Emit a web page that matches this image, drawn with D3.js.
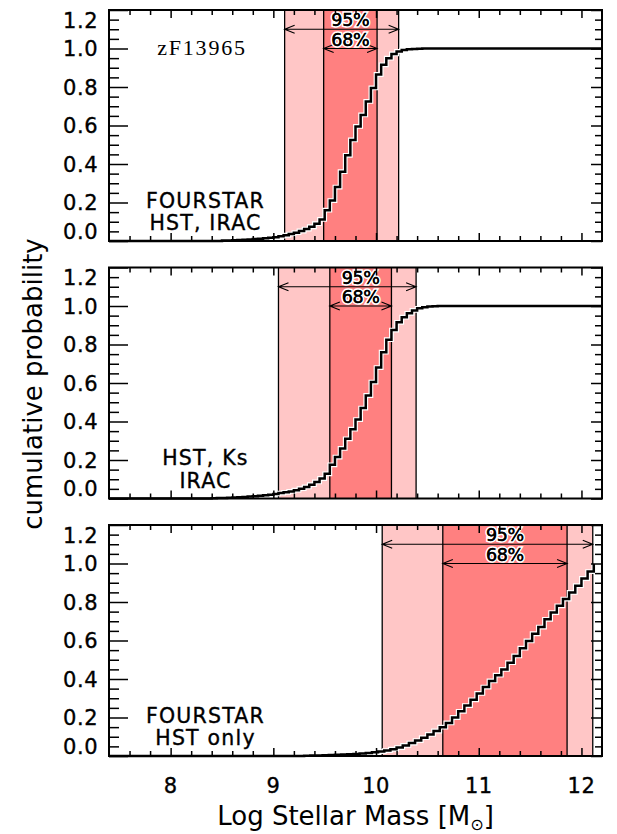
<!DOCTYPE html>
<html>
<head>
<meta charset="utf-8">
<script src="https://cdn.jsdelivr.net/npm/d3@7"></script>
<style>
  body { margin: 0; background: #fff; }
  text { font-family: "DejaVu Sans", sans-serif; fill: #000; }
  .heavy { stroke: #000; stroke-width: 0.35px; }
</style>
</head>
<body>
<div id="chart"></div>
<script>
// Chart values
var massTicks = [8, 9, 10, 11, 12];
var probTicks = [0.0, 0.2, 0.4, 0.6, 0.8, 1.0, 1.2];
var probLabels = ["0.0", "0.2", "0.4", "0.6", "0.8", "1.0", "1.2"];
var objectName = "zF13965";
var panelLabels = [["FOURSTAR", "HST, IRAC"], ["HST, Ks", "IRAC"], ["FOURSTAR", "HST only"]];
var ci95 = [[9.11, 10.22], [9.05, 10.39], [10.06, 12.11]];
var ci68 = [[9.49, 10.01], [9.55, 10.15], [10.65, 11.86]];

// cumulative probability, one value per mass bin
var cdfStart = [8.50, 8.40, 9.30];
var cdfStep = [0.05, 0.05, 0.06];
var cdfEnd = [12.2, 12.2, null];
var cdf1 = [0.002, 0.003, 0.004, 0.005, 0.006, 0.008, 0.010, 0.012, 0.014, 0.017,
            0.020, 0.025, 0.030, 0.036, 0.043, 0.052, 0.062, 0.074, 0.090, 0.112,
            0.160, 0.210, 0.280, 0.360, 0.445, 0.525, 0.595, 0.655, 0.725, 0.795,
            0.865, 0.915, 0.950, 0.972, 0.985, 0.992, 0.996, 0.998, 0.999, 1.000];
var cdf2 = [0.001, 0.002, 0.003, 0.004, 0.005, 0.006, 0.008, 0.010, 0.012, 0.014,
            0.017, 0.020, 0.024, 0.028, 0.032, 0.037, 0.043, 0.051, 0.060, 0.072,
            0.086, 0.104, 0.128, 0.175, 0.215, 0.260, 0.310, 0.360, 0.410, 0.470,
            0.535, 0.605, 0.680, 0.760, 0.825, 0.875, 0.915, 0.942, 0.962, 0.977,
            0.988, 0.994, 0.997, 0.999, 1.000];
var cdf3 = [0.001, 0.002, 0.003, 0.004, 0.005, 0.006, 0.008, 0.009, 0.011, 0.013,
            0.016, 0.019, 0.023, 0.028, 0.035, 0.044, 0.055, 0.067, 0.080, 0.095,
            0.112, 0.130, 0.150, 0.172, 0.200, 0.232, 0.262, 0.292, 0.325, 0.358,
            0.390, 0.420, 0.450, 0.485, 0.520, 0.560, 0.598, 0.635, 0.670, 0.710,
            0.745, 0.780, 0.815, 0.850, 0.885, 0.922, 0.958, 0.998];
var cdfs = [cdf1, cdf2, cdf3];

// Layout
var svgWidth = 617;
var svgHeight = 834;
var plotLeft = 109;
var plotRight = 602;
var panelTop = [10, 267.5, 525];
var panelHeight = 231;

var lightRed = "#ffc6c6";
var darkRed = "#ff8080";

var svg = d3.select("#chart")
  .append("svg")
  .attr("width", svgWidth)
  .attr("height", svgHeight);

var x = d3.scaleLinear()
  .domain([7.4, 12.2])
  .range([plotLeft, plotRight]);

var xMinor = d3.range(76, 122, 2).map(d => d / 10)
  .filter(d => Math.abs(d - Math.round(d)) > 1e-6);
var yMinor = d3.range(1, 24).filter(d => d % 4 != 0).map(d => d * 0.05);

var line = d3.line().curve(d3.curveStepAfter);

panelTop.forEach(function(top, p) {
  var bottom = top + panelHeight;
  var y = d3.scaleLinear().domain([0, 1.2]).range([bottom, top]);
  var g = svg.append("g");

  // confidence bands
  g.append("rect")
    .attr("x", x(ci95[p][0])).attr("y", top)
    .attr("width", x(ci95[p][1]) - x(ci95[p][0])).attr("height", panelHeight)
    .attr("fill", lightRed);
  g.append("rect")
    .attr("x", x(ci68[p][0])).attr("y", top)
    .attr("width", x(ci68[p][1]) - x(ci68[p][0])).attr("height", panelHeight)
    .attr("fill", darkRed);

  g.selectAll(".edge")
    .data(ci95[p].concat(ci68[p]))
    .enter().append("line")
    .attr("x1", d => x(d)).attr("x2", d => x(d))
    .attr("y1", top).attr("y2", bottom)
    .attr("stroke", "#000").attr("stroke-width", 1.3);

  // cumulative step curve
  var pts = [[7.4, 0]];
  cdfs[p].forEach(function(v, i) {
    pts.push([cdfStart[p] + i * cdfStep[p], v]);
  });
  if (cdfEnd[p] != null) pts.push([cdfEnd[p], cdfs[p][cdfs[p].length - 1]]);
  line.x(d => x(d[0])).y(d => y(d[1]));

  g.append("path").attr("d", line(pts))
    .attr("fill", "none").attr("stroke", "#fff").attr("stroke-width", 4.8);
  g.append("path").attr("d", line(pts))
    .attr("fill", "none").attr("stroke", "#000").attr("stroke-width", 2.5);

  // interval arrows + labels
  var arrows = [{ lo: ci95[p][0], hi: ci95[p][1], v: 1.1, label: "95%" },
                { lo: ci68[p][0], hi: ci68[p][1], v: 1.0, label: "68%" }];
  var mid = (x(ci68[p][0]) + x(ci68[p][1])) / 2;
  arrows.forEach(function(a) {
    var yy = y(a.v), x0 = x(a.lo), x1 = x(a.hi);
    g.append("path")
      .attr("d", `M${x0},${yy}H${x1}` +
                 `M${x0 + 10},${yy - 4}L${x0},${yy}L${x0 + 10},${yy + 4}` +
                 `M${x1 - 10},${yy - 4}L${x1},${yy}L${x1 - 10},${yy + 4}`)
      .attr("fill", "none").attr("stroke", "#000").attr("stroke-width", 1.1);
    g.append("text")
      .attr("x", mid).attr("y", yy - 3)
      .attr("text-anchor", "middle")
      .attr("font-size", 17.5)
      .attr("letter-spacing", -0.3)
      .attr("stroke", "#fff").attr("stroke-width", 3.5)
      .attr("paint-order", "stroke")
      .text(a.label);
    g.append("text")
      .attr("class", "heavy")
      .attr("x", mid).attr("y", yy - 3)
      .attr("text-anchor", "middle")
      .attr("font-size", 17.5)
      .attr("letter-spacing", -0.3)
      .text(a.label);
  });

  // run labels
  g.selectAll(".run")
    .data(panelLabels[p])
    .enter().append("text")
    .attr("class", "heavy")
    .attr("x", 205.5)
    .attr("y", (d, i) => bottom - 33.5 + i * 22.5)
    .attr("text-anchor", "middle")
    .attr("font-size", 20.5)
    .attr("letter-spacing", 1.2)
    .text(d => d);

  // ticks
  function ticks(axis, tf, vals, len) {
    var a = g.append("g").attr("transform", tf)
      .call(axis.tickValues(vals).tickSizeInner(-len).tickSizeOuter(0).tickFormat(""));
    a.select(".domain").remove();
    a.selectAll("line").attr("stroke", "#000").attr("stroke-width", 1.5);
  }
  ticks(d3.axisLeft(y), `translate(${plotLeft},0)`, probTicks, 19);
  ticks(d3.axisLeft(y), `translate(${plotLeft},0)`, yMinor, 10);
  ticks(d3.axisRight(y), `translate(${plotRight},0)`, probTicks, 11);
  ticks(d3.axisRight(y), `translate(${plotRight},0)`, yMinor, 7);
  ticks(d3.axisBottom(x), `translate(0,${bottom})`, massTicks, 8);
  ticks(d3.axisBottom(x), `translate(0,${bottom})`, xMinor, 5);
  ticks(d3.axisTop(x), `translate(0,${top})`, massTicks, 8);
  ticks(d3.axisTop(x), `translate(0,${top})`, xMinor, 5);

  // y tick labels (end labels pulled inside like the original)
  g.selectAll(".ylab")
    .data(probTicks)
    .enter().append("text")
    .attr("class", "heavy")
    .attr("x", 98)
    .attr("y", function(d, i) {
      var shift = i == 0 ? -10 : (i == probTicks.length - 1 ? 10 : 0);
      return y(d) + shift;
    })
    .attr("dy", "0.36em")
    .attr("text-anchor", "end")
    .attr("font-size", 21)
    .attr("letter-spacing", 0.5)
    .text((d, i) => probLabels[i]);

  // frame
  g.append("rect")
    .attr("x", plotLeft).attr("y", top)
    .attr("width", plotRight - plotLeft).attr("height", panelHeight)
    .attr("fill", "none").attr("stroke", "#000").attr("stroke-width", 2);

  if (p == 0) {
    g.append("text")
      .attr("x", 202).attr("y", 55)
      .attr("text-anchor", "middle")
      .style("font-family", "'Liberation Serif', serif")
      .attr("font-size", 22)
      .attr("letter-spacing", 1.8)
      .text(objectName);
  }

  if (p == 2) {
    g.selectAll(".xlab")
      .data(massTicks)
      .enter().append("text")
      .attr("class", "heavy")
      .attr("x", d => x(d))
      .attr("y", bottom + 36.5)
      .attr("text-anchor", "middle")
      .attr("font-size", 21)
      .attr("letter-spacing", 0.5)
      .text(d => d);
  }
});

// axis titles
var xTitle = svg.append("text")
  .attr("x", (plotLeft + plotRight) / 2)
  .attr("y", 825)
  .attr("text-anchor", "middle")
  .attr("font-size", 26);
xTitle.append("tspan").text("Log Stellar Mass [M");
xTitle.append("tspan").attr("font-size", 16).attr("dy", 5).text("\u2299");
xTitle.append("tspan").attr("dy", -5).text("]");

svg.append("text")
  .attr("transform", "translate(42,384) rotate(-90)")
  .attr("text-anchor", "middle")
  .attr("font-size", 26)
  .text("cumulative probability");
</script>
</body>
</html>
